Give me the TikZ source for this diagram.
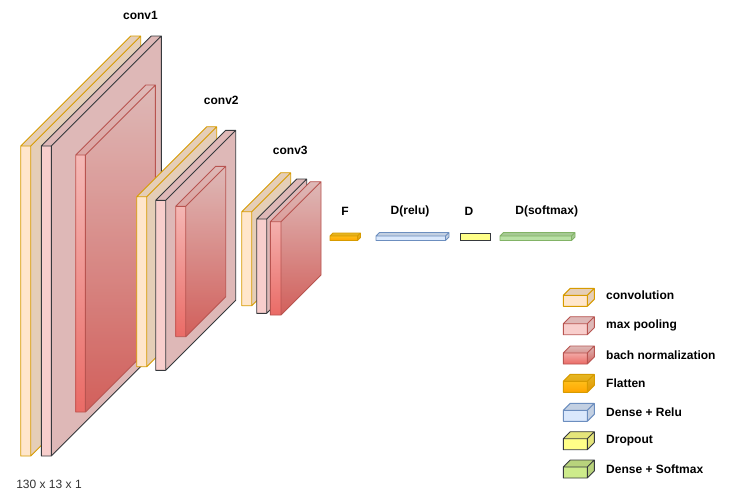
\documentclass[tikz,border=0pt]{standalone}
\usepackage{fontspec}
\setmainfont{Liberation Sans}
\definecolor{convF}{HTML}{FFE6CC}
\definecolor{convS}{HTML}{D79B00}
\definecolor{poolF}{HTML}{F8CECC}
\definecolor{poolS}{HTML}{36393D}
\definecolor{bnTop}{HTML}{F8CECC}
\definecolor{bnBot}{HTML}{EA6B66}
\definecolor{bnS}{HTML}{B85450}
\definecolor{flTop}{HTML}{FFCD28}
\definecolor{flBot}{HTML}{FFA500}
\definecolor{flS}{HTML}{D79B00}
\definecolor{reluF}{HTML}{DAE8FC}
\definecolor{reluS}{HTML}{6C8EBF}
\definecolor{dropF}{HTML}{FFFF88}
\definecolor{darkS}{HTML}{36393D}
\definecolor{smF}{HTML}{CDEB8B}
\definecolor{smBarF}{HTML}{B9E0A5}
\definecolor{smBarS}{HTML}{82B366}
\definecolor{dimC}{HTML}{333333}
\newcommand\blk[7]{%
  \path[#6] (#1,{#2+#4}) -- (#1,#2) -- ({#1+#5},{#2-#5}) -- ({#1+#3+#5},{#2-#5}) -- ({#1+#3+#5},{#2+#4-#5}) -- ({#1+#3},{#2+#4}) -- cycle;
  \fill[black,fill opacity=0.1] ({#1+#3},{#2+#4}) -- ({#1+#3},#2) -- (#1,#2) -- ({#1+#5},{#2-#5}) -- ({#1+#3+#5},{#2-#5}) -- ({#1+#3+#5},{#2+#4-#5}) -- cycle;
  \draw[draw=#7,line width=0.9pt,line join=round] (#1,{#2+#4}) -- (#1,#2) -- ({#1+#5},{#2-#5}) -- ({#1+#3+#5},{#2-#5}) -- ({#1+#3+#5},{#2+#4-#5}) -- ({#1+#3},{#2+#4}) -- cycle (#1,#2) -- ({#1+#3},#2) -- ({#1+#3+#5},{#2-#5}) ({#1+#3},#2) -- ({#1+#3},{#2+#4});
}
\begin{document}
\begin{tikzpicture}[x=1pt,y=-1pt,
  lbl/.style={font=\fontsize{12}{14}\selectfont\bfseries,inner sep=0pt},
  leglbl/.style={font=\fontsize{12}{14}\selectfont\bfseries,inner sep=0pt,anchor=west},
  dimlbl/.style={font=\fontsize{12}{14}\selectfont,text=dimC,inner sep=0pt}]
\useasboundingbox[fill=white] (0,0) rectangle (743,501);
% conv1
\blk{20.7}{146}{10}{310}{110}{fill=convF}{convS}
\blk{41.3}{146}{10}{310}{110}{fill=poolF}{poolS}
\blk{75.7}{155}{9.7}{257}{70}{top color=bnTop,bottom color=bnBot}{bnS}
% conv2
\blk{136.7}{196.7}{10}{170}{70}{fill=convF}{convS}
\blk{155.7}{200.3}{10}{170}{70}{fill=poolF}{poolS}
\blk{175.7}{206.3}{10}{130.4}{40}{top color=bnTop,bottom color=bnBot}{bnS}
% conv3
\blk{241.7}{211.7}{10}{94}{39}{fill=convF}{convS}
\blk{256.7}{219}{10}{94.3}{40}{fill=poolF}{poolS}
\blk{270.3}{221.7}{10.7}{93.3}{40}{top color=bnTop,bottom color=bnBot}{bnS}
% flat layers
\blk{330}{236}{27.5}{4.5}{3}{top color=flTop,bottom color=flBot}{flS}
\blk{376}{236}{69.5}{4.5}{3.5}{fill=reluF}{reluS}
\draw[fill=dropF,draw=darkS,line width=0.9pt] (460.5,233) rectangle (490.5,240);
\blk{500}{236}{71.5}{4.5}{3.5}{fill=smBarF}{smBarS}
% labels
\node[lbl] (c1) at (140.5,15) {conv1};
\node[lbl] (c2) at (221.3,100) {conv2};
\node[lbl] (c3) at (290.3,150.5) {conv3};
\node[lbl] (lF) at (345,211) {F};
\node[lbl] (lR) at (410,211) {D(relu)};
\node[lbl] (lD) at (469,211) {D};
\node[lbl] (lS) at (546.7,211) {D(softmax)};
\node[dimlbl] (dim) at (49,484) {130 x 13 x 1};
% legend
\blk{563.3}{295.3}{24}{11}{7}{fill=convF}{convS}
\blk{563.3}{323.7}{24}{11}{7}{fill=poolF}{bnS}
\blk{563.3}{353}{24}{11}{7}{top color=bnTop,bottom color=bnBot}{bnS}
\blk{563.3}{381.3}{24}{11}{7}{top color=flTop,bottom color=flBot}{flS}
\blk{563.3}{410.3}{24}{11}{7}{fill=reluF}{reluS}
\blk{563.3}{438.7}{24}{11}{7}{fill=dropF}{darkS}
\blk{563.3}{467}{24}{11}{7}{fill=smF}{darkS}
\node[leglbl] (g1) at (606,295.7) {convolution};
\node[leglbl] (g2) at (606,325) {max pooling};
\node[leglbl] (g3) at (606,355) {bach normalization};
\node[leglbl] (g4) at (606,383.3) {Flatten};
\node[leglbl] (g5) at (606,412.3) {Dense + Relu};
\node[leglbl] (g6) at (606,440.7) {Dropout};
\node[leglbl] (g7) at (606,469.3) {Dense + Softmax};
\end{tikzpicture}
\end{document}
